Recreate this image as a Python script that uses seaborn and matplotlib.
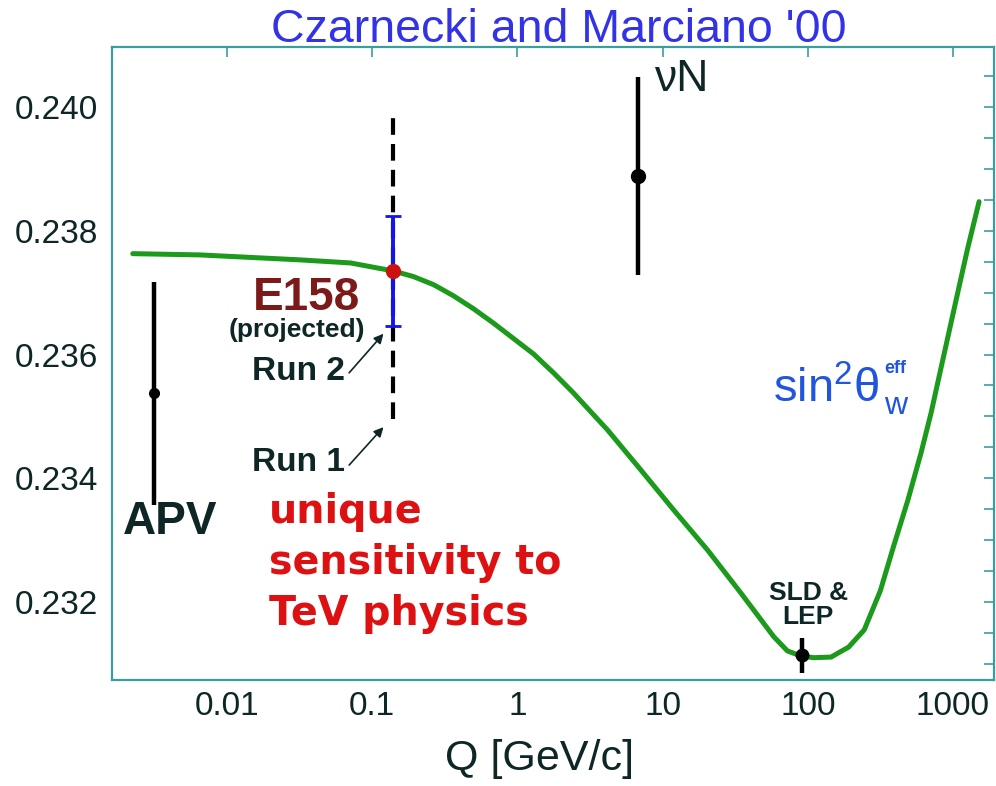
import matplotlib
matplotlib.use('Agg')
import matplotlib.pyplot as plt
import seaborn as sns
import pandas as pd
import numpy as np

# running sin^2 theta_W curve
curve_q = [0.00224, 0.00646, 0.0316, 0.0708, 0.140, 0.192, 0.264, 0.362, 0.498,
           0.682, 0.938, 1.29, 1.78, 2.43, 4.18, 7.05, 11.9, 20.4, 34.5, 58.3,
           72.4, 89.1, 110, 145, 166, 191, 245, 316, 389, 490, 603, 708, 794, 1000,
           1259, 1514]
curve_s2w = [0.23763, 0.23761, 0.23753, 0.23748, 0.23735, 0.23726, 0.23713, 0.23695, 0.23674,
             0.23651, 0.23626, 0.23601, 0.23570, 0.23538, 0.23478, 0.23414, 0.23349, 0.23284, 0.23215, 0.23144,
             0.23121, 0.23113, 0.23110, 0.23111, 0.23119, 0.23127, 0.23155, 0.23218, 0.23289, 0.23365,
             0.23441, 0.23506, 0.23559, 0.23665, 0.23770, 0.23847]

# measurements
meas_names = ['APV', 'nuN', 'SLD & LEP']
meas_q = [0.00314, 6.8, 92]
meas_s2w = [0.23537, 0.23889, 0.23114]
meas_err = [0.0018, 0.0016, 0.00028]
meas_ms = [7, 10, 9]

# E158 projection
e158_q = 0.14
e158_s2w = 0.23735
e158_err_run2 = 0.00089
e158_err_run1_lo = 0.0024
e158_err_run1_hi = 0.0026

xticks = [0.01, 0.1, 1, 10, 100, 1000]
xticklabels = ['0.01', '0.1', '1', '10', '100', '1000']
yticks = [0.232, 0.234, 0.236, 0.238, 0.240]

sns.set_style('white')
plt.rcParams['font.family'] = ['Liberation Sans', 'DejaVu Sans']
plt.rcParams['mathtext.fontset'] = 'custom'
plt.rcParams['mathtext.rm'] = 'Liberation Sans'

axcol = '#3a9e9e'
txtcol = '#0e2626'
blue = '#2255dd'

fig = plt.figure(figsize=(9.96, 7.86), dpi=100)
ax = fig.add_axes([0.1124, 0.1349, 0.8856, 0.8053])

df = pd.DataFrame({'Q': curve_q, 's2w': curve_s2w})
sns.lineplot(data=df, x='Q', y='s2w', ax=ax, color='#1c9a1c', lw=3.6,
             sort=False, estimator=None, zorder=2)

for q, s, e, ms in zip(meas_q, meas_s2w, meas_err, meas_ms):
    ax.errorbar(q, s, yerr=e, fmt='o', color='black', ms=ms, elinewidth=3.2,
                capsize=0, zorder=3)

# E158: run 1 dashed, run 2 blue
eb = ax.errorbar(e158_q, e158_s2w, yerr=[[e158_err_run1_lo], [e158_err_run1_hi]],
                 fmt='none', ecolor='black', elinewidth=3.0, capsize=0, zorder=3)
eb[2][0].set_linestyle((0, (4, 2.2)))
ax.errorbar(e158_q, e158_s2w, yerr=e158_err_run2, fmt='none', ecolor='#1414ee',
            elinewidth=2.8, capsize=6, capthick=2.0, zorder=4)
ax.plot(e158_q, e158_s2w, 'o', color='#cc1111', ms=10, zorder=5)

ax.set_xscale('log')
ax.set_xlim(0.00161, 1919)
ax.set_ylim(0.23074, 0.24097)
ax.set_xticks(xticks)
ax.set_xticklabels(xticklabels)
ax.xaxis.set_minor_locator(matplotlib.ticker.NullLocator())
ax.set_yticks(yticks)
ax.set_yticklabels(['%.3f' % v for v in yticks])
ax.yaxis.set_minor_locator(matplotlib.ticker.MultipleLocator(0.0005))
ax.tick_params(which='both', direction='in', length=7, width=1.2, color=axcol,
               top=True, right=True, labelsize=24, labelcolor=txtcol)
ax.tick_params(axis='x', pad=8)
ax.tick_params(axis='y', pad=10)
for sp in ax.spines.values():
    sp.set_color(axcol)
    sp.set_linewidth(1.6)
ax.set_ylabel('')
ax.set_xlabel('Q [GeV/c]', fontsize=31, color=txtcol)
ax.xaxis.set_label_coords(0.485, -0.094)

fig.text(0.561, 0.962, "Czarnecki and Marciano '00", ha='center', va='center',
         fontsize=33.5, color='#3333e6')

ax.text(8.7, 0.24044, 'νN', fontsize=32, color=txtcol, ha='left', va='center')
ax.text(0.0351, 0.23692, 'E158', fontsize=33, fontweight='bold', color='#7c1a1a',
        ha='center', va='center')
ax.text(0.0304, 0.23640, '(projected)', fontsize=19, fontweight='bold', color=txtcol,
        ha='center', va='center')
ax.text(0.0309, 0.23572, 'Run 2', fontsize=24, fontweight='bold', color=txtcol,
        ha='center', va='center')
ax.text(0.0309, 0.23425, 'Run 1', fontsize=24, fontweight='bold', color=txtcol,
        ha='center', va='center')
for y0, y1 in [(0.23567, 0.23637), (0.23418, 0.23486)]:
    ax.annotate('', xy=(0.123, y1), xytext=(0.0673, y0),
                arrowprops=dict(arrowstyle='-|>', color=txtcol, lw=1.2,
                                mutation_scale=14))
ax.text(0.00405, 0.23330, 'APV', fontsize=33, fontweight='bold', color=txtcol,
        ha='center', va='center')
ax.text(0.0195, 0.23263, 'unique\nsensitivity to\nTeV physics', fontsize=28.5,
        fontweight='bold', color='#dd1111', ha='left', va='center', linespacing=1.35,
        family='DejaVu Sans')
ax.text(101, 0.23195, 'SLD &\nLEP', fontsize=19, fontweight='bold', color=txtcol,
        ha='center', va='center', linespacing=1.0)
# sin^2 theta_w^eff label, pieces placed separately
ax.text(57.4, 0.23543, r'$\mathrm{sin^2θ}$', fontsize=34,
        color=blue, ha='left', va='center')
ax.text(334, 0.23516, 'w', fontsize=23, color=blue, ha='left', va='center')
ax.text(337, 0.23578, 'eff', fontsize=13, fontweight='bold',
        color=blue, ha='left', va='center')

plt.savefig('out.png', dpi=100)
